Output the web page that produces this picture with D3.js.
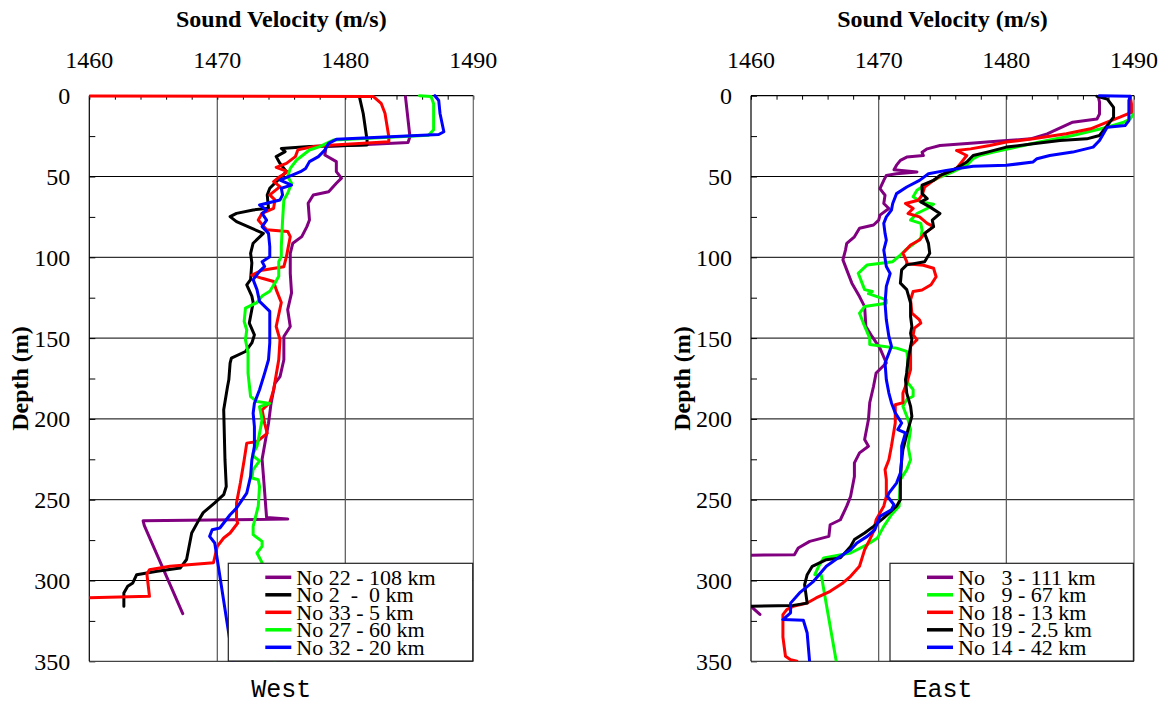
<!DOCTYPE html>
<html><head><meta charset="utf-8">
<script src="https://cdn.jsdelivr.net/npm/d3@7"></script>
<style>
body{margin:0;background:#fff;}
svg text{font-family:"Liberation Serif","Times New Roman",serif;}
</style></head>
<body>
<svg id="chart" width="1162" height="704"></svg>
<script>
// ---- Data: each series is [soundVelocity (m/s), depth (m)] ----
const xTicks = [1460, 1470, 1480, 1490];
const yTicks = [0, 50, 100, 150, 200, 250, 300, 350];

const westNames = ["No 22 - 108 km", "No 2  -  0 km", "No 33 - 5 km", "No 27 - 60 km", "No 32 - 20 km"];
const eastNames = ["No   3 - 111 km", "No   9 - 67 km", "No 18 - 13 km", "No 19 - 2.5 km", "No 14 - 42 km"];

const westNo22 = [[1484.7,0.6],[1485.05,25.4],[1484.9,29],[1478.5,31.5],[1478.4,36.7],[1479.3,40.8],[1479.3,47],[1479.7,51],[1479.3,54.2],[1478.7,59.4],[1477.5,61.4],[1477.1,66.6],[1477.2,76.9],[1477.0,81],[1476.6,87.2],[1475.9,91.3],[1475.7,97.5],[1475.7,110],[1475.8,122],[1475.5,132.4],[1475.7,142.8],[1475.2,149],[1475.2,163.4],[1474.9,173.8],[1474.5,178],[1474.2,190.4],[1474.0,202.7],[1473.5,225],[1473.6,235],[1473.85,261],[1475.5,262],[1464.2,263],[1464.3,266],[1467.3,320.5]];
const westNo2 = [[1481.1,0.6],[1481.4,11],[1481.7,27.4],[1481.7,30.5],[1477.2,31.5],[1475.0,32.6],[1475.3,34.6],[1474.6,37.7],[1474.9,41.9],[1475.4,47],[1474.1,57.3],[1473.9,61.4],[1474.0,69.7],[1472.8,70.7],[1471.5,72.8],[1471.0,74.8],[1471.5,77.9],[1473.6,85.2],[1472.8,91.3],[1472.6,97.5],[1472.7,103.5],[1472.6,113.8],[1472.3,117],[1472.7,124],[1472.8,128],[1472.5,140.7],[1472.9,148],[1472.7,153],[1472.2,158.3],[1471.1,162.4],[1471.0,165.5],[1470.9,175.8],[1470.8,180],[1470.5,194.4],[1470.6,225.4],[1470.7,241.8],[1470.5,246.9],[1469.8,252],[1468.9,258],[1468.5,263.4],[1468.0,270.6],[1467.6,287],[1467.1,292.3],[1465.3,294.3],[1463.7,296.4],[1463.4,301.5],[1463.0,303.6],[1462.7,307.7],[1462.7,316]];
const westNo33 = [[1459,0.2],[1482.2,0.5],[1482.8,4.7],[1483.1,10.9],[1483.4,25.4],[1483.4,28.5],[1479.1,30.5],[1477.5,31.5],[1476.3,33.5],[1476.1,37.7],[1475.4,41.9],[1474.6,44.3],[1475.5,47],[1474.9,50],[1474.4,53.2],[1474.9,56.3],[1474.1,61.4],[1474.5,64.5],[1474.4,69.7],[1473.5,72.8],[1473.2,76.9],[1473.85,83],[1475.5,84],[1475.7,87.2],[1475.4,99.6],[1475.2,105.8],[1473.5,108],[1472.7,111],[1473.5,113],[1474.4,115],[1474.6,120],[1475.0,128],[1474.6,142.8],[1474.9,151],[1474.8,163.4],[1474.4,182],[1474.1,190],[1473.5,194.4],[1473.7,202.7],[1473.9,209],[1473.1,214],[1472.3,215],[1472.1,225.4],[1471.8,239.7],[1471.5,252],[1471.5,262.4],[1471.6,264.4],[1471.0,270.6],[1470.5,273.7],[1470.0,278.9],[1469.7,289],[1466.3,291.2],[1464.7,293.3],[1464.5,296],[1464.7,309.8],[1459,310.8]];
const westNo27 = [[1485.8,0],[1486.7,0.5],[1486.9,5],[1486.9,21],[1486.5,24.5],[1479.1,27.4],[1478.0,31.5],[1477.2,33.6],[1476.2,39.8],[1475.7,45],[1475.5,50],[1475.8,54.2],[1475.5,60.4],[1475.2,64.5],[1475.1,77],[1475.0,93.4],[1475.0,99.6],[1474.8,102.7],[1474.8,111.7],[1474.5,116],[1474.1,121],[1473.5,124],[1473.1,128],[1472.2,131.4],[1472.1,139.7],[1472.3,145],[1472.2,151],[1472.4,159.3],[1472.4,171.7],[1472.6,186.2],[1473.1,189.3],[1474.1,190.4],[1473.3,192.4],[1473.5,200.6],[1473.3,208.9],[1473.1,217],[1472.8,221.3],[1472.8,223],[1473.3,226],[1472.8,231.4],[1472.7,236.6],[1473.2,237.6],[1473.3,241.8],[1473.2,254],[1472.8,266.5],[1472.8,271.6],[1473.5,275.8],[1473.5,278.9],[1473.1,283],[1473.5,289],[1474.5,351]];
const westNo32 = [[1487.0,0],[1487.3,3],[1487.4,11],[1487.7,22.3],[1487.3,24],[1479.3,27],[1478.7,29.5],[1478.4,33.6],[1477.9,37.7],[1477.2,40.8],[1476.9,45],[1476.5,47],[1475.9,49],[1474.9,52.2],[1475.8,55.3],[1475.0,57.3],[1475.1,61.4],[1474.9,64.5],[1473.3,67.6],[1473.85,70.7],[1473.5,72.8],[1473.85,77],[1473.5,81],[1474.0,85.2],[1474.1,93.4],[1474.1,99.6],[1473.5,102.7],[1473.7,105.6],[1473.3,108.7],[1472.8,113.8],[1473.1,120],[1473.3,127.3],[1474.1,133.5],[1474.1,153],[1474.0,163.4],[1473.7,171.7],[1473.3,182],[1472.9,190.3],[1472.8,196.5],[1472.9,204.8],[1472.9,217],[1472.7,225.4],[1472.6,235.6],[1472.3,245.9],[1471.5,255.2],[1471.0,259.3],[1470.2,267.5],[1469.6,268.6],[1469.4,272.7],[1469.8,276.8],[1471.25,351]];

const eastNo3 = [[1487.2,0.4],[1487.3,4],[1487.3,11.3],[1487.1,14.4],[1485.2,16.4],[1483.2,23.6],[1481.9,26.7],[1479.5,28.1],[1477.2,29.4],[1474.8,30.8],[1473.8,32.9],[1473.4,35],[1473.5,37],[1472.2,38],[1471.7,40],[1471.4,43],[1471.2,45.8],[1473.0,47.2],[1471.4,48.3],[1470.6,49.3],[1470.4,52.4],[1470.1,57.5],[1470.5,61.6],[1470.4,66.7],[1470.8,69.8],[1470.1,73.9],[1470.0,77],[1469.6,80],[1468.5,82],[1468.1,87.3],[1467.5,91.4],[1467.4,95.5],[1467.2,101.6],[1467.5,107.8],[1467.9,116],[1468.5,124.3],[1468.9,130.5],[1469.0,142.8],[1469.4,148],[1470.1,156.2],[1470.6,165.4],[1469.8,171.6],[1469.6,179.8],[1469.3,190],[1469.2,200.4],[1468.9,212.8],[1469.2,216.9],[1468.5,221],[1468.1,227.2],[1468.1,235.6],[1467.8,248],[1467.5,254],[1467.0,262.4],[1466.2,265.5],[1466.1,272.7],[1464.6,275.8],[1463.7,279.9],[1463.4,284],[1459.5,284.4],[1458.5,290],[1459.0,310],[1460.0,316],[1460.7,321]];
const eastNo9 = [[1490.2,0],[1490.0,8],[1489.9,12],[1489.7,14.4],[1489.2,16.4],[1487.9,19.5],[1485.2,24.6],[1482.6,28.7],[1480.8,31.8],[1479.0,34.9],[1477.9,37],[1477.4,39],[1476.9,43],[1475.8,47.2],[1474.8,50.3],[1473.8,54.4],[1473.0,58.5],[1472.7,62.6],[1473.3,65.7],[1474.3,67.1],[1473.8,69.8],[1473.0,72.9],[1472.5,77],[1473.3,79],[1473.4,83.2],[1473.3,88.3],[1472.8,91.4],[1472.1,95.5],[1471.7,98.6],[1471.1,102.7],[1469.1,104.7],[1468.4,109.9],[1468.7,116],[1468.9,120],[1469.5,121.2],[1469.2,122.5],[1470.6,126.3],[1470.6,128.4],[1468.9,130.5],[1468.5,134.6],[1468.8,140.7],[1469.3,150],[1469.3,154],[1471.4,156.2],[1472.2,158.2],[1472.3,163.4],[1472.2,171.6],[1472.3,177.8],[1472.7,181.9],[1472.7,186],[1472.2,188],[1471.9,192.2],[1472.3,200.4],[1472.5,206.6],[1472.3,216.9],[1472.5,225.3],[1472.2,231.4],[1471.7,237.6],[1471.6,254],[1471.0,259.3],[1470.4,266.5],[1469.9,273.7],[1469.1,277.8],[1467.8,283],[1465.7,286],[1465.3,291.2],[1465.0,296.4],[1465.5,296.6],[1466.7,351]];
const eastNo18 = [[1489.7,0.4],[1489.8,5],[1489.8,10.3],[1488.9,13.3],[1487.9,16.4],[1486.6,20.5],[1484.7,23.6],[1482.1,26.7],[1480.0,28.7],[1478.7,30.8],[1477.2,32.9],[1476.1,33.9],[1476.9,37],[1476.6,40],[1476.1,45],[1475.1,48.3],[1474.3,52.4],[1473.6,56.5],[1473.4,61.6],[1473.1,64.7],[1472.1,66.7],[1472.7,69.8],[1472.3,72.9],[1473.2,75],[1473.8,79],[1474.3,81],[1473.6,85.2],[1473.2,89.3],[1472.5,92.4],[1471.9,97.5],[1472.2,102.7],[1472.2,104],[1473.5,104.9],[1474.3,106.8],[1474.5,112],[1474.1,117],[1473.4,120.2],[1472.7,121.2],[1472.5,126.3],[1472.6,134.6],[1473.2,138.7],[1473.3,140.7],[1472.8,143.8],[1472.7,148],[1473.0,151],[1472.5,155],[1472.5,169.5],[1472.2,177.8],[1471.9,184],[1471.9,190],[1471.3,191.2],[1471.3,202.5],[1471.0,216.9],[1470.8,225.3],[1470.5,231.4],[1470.6,237.6],[1470.6,248],[1470.4,254],[1470.1,258.2],[1469.8,262.4],[1469.6,269.6],[1469.3,274.7],[1468.9,281],[1468.5,291.2],[1467.8,297.4],[1467.2,301.5],[1466.2,306.7],[1465.1,310.8],[1464.4,313.9],[1463.3,316],[1462.8,318],[1462.5,321.1],[1462.5,335],[1462.7,346.9],[1463.1,349],[1463.6,350]];
const eastNo19 = [[1487.1,0.4],[1487.9,2],[1488.4,7.2],[1488.4,13.3],[1487.9,18.5],[1487.3,24.6],[1486.3,26.7],[1484.2,27.7],[1482.1,29.8],[1480.0,31.8],[1478.5,34.9],[1477.4,37],[1476.9,41],[1475.8,46.2],[1474.8,49.3],[1474.3,52.4],[1473.4,55.4],[1473.4,60.6],[1473.8,63.7],[1473.3,65.7],[1474.0,68.8],[1474.8,72.9],[1474.2,77],[1474.3,81],[1473.6,85.2],[1473.9,91.4],[1474.0,97.5],[1473.6,102.7],[1472.2,104.7],[1471.8,107.8],[1471.7,116],[1472.2,120],[1472.5,128.4],[1472.5,136.6],[1472.6,142.8],[1472.5,147],[1472.6,151],[1472.3,163.4],[1472.2,171.6],[1472.1,175.7],[1472.2,184],[1472.5,192.2],[1472.6,198.4],[1472.3,206.6],[1472.1,212.8],[1471.9,219],[1471.8,225.3],[1471.7,237.6],[1471.7,250],[1471.4,254],[1470.4,261.3],[1469.6,266.5],[1468.9,270.6],[1468.1,274.7],[1467.8,278.9],[1467.0,286],[1465.9,287.1],[1464.8,291.2],[1464.4,296.4],[1464.2,302.6],[1464.4,314],[1463.3,315.4],[1459,316]];
const eastNo14 = [[1487.3,0],[1489.7,0.4],[1489.6,3],[1489.6,15.4],[1489.3,18.5],[1487.9,19.5],[1487.3,27.7],[1486.8,31.8],[1485.2,34.9],[1483.4,37],[1482.4,39],[1482.1,41],[1480.0,43.1],[1477.4,43.7],[1475.3,46.2],[1473.9,48.3],[1473.2,52.4],[1472.2,56.5],[1471.4,60.6],[1471.1,66.7],[1471.0,70.8],[1470.6,75],[1470.4,79],[1470.5,85.2],[1470.6,89.3],[1470.4,95.5],[1470.6,105.7],[1470.9,110],[1470.6,118],[1470.5,128.4],[1470.6,138.7],[1470.8,149],[1471.0,155],[1470.8,159.3],[1470.5,165.4],[1470.6,175.7],[1470.8,184],[1471.0,190],[1471.3,196.3],[1471.8,202.5],[1471.5,206.6],[1472.1,208.6],[1471.8,216.9],[1471.8,225.3],[1471.7,233.5],[1471.4,239.7],[1470.8,245.9],[1470.7,248],[1471.2,253.1],[1471.0,256.2],[1470.1,260.3],[1469.7,268.6],[1469.1,272.7],[1468.3,276.8],[1467.8,281],[1467.0,285],[1465.9,291.2],[1464.9,300.5],[1463.8,307.7],[1463.1,314],[1463.1,320],[1462.5,324.2],[1464.1,324.6],[1464.4,332.5],[1464.6,351]];

const westColors = ["#800080", "#000000", "#ff0000", "#00ff00", "#0000ff"];
const eastColors = ["#800080", "#00ff00", "#ff0000", "#000000", "#0000ff"];

const panels = [
  {id:"w", x0:89.3, x1:473.3, label:"West", names:westNames, colors:westColors, series:[westNo22, westNo2, westNo33, westNo27, westNo32]},
  {id:"e", x0:751, x1:1134, label:"East", names:eastNames, colors:eastColors, series:[eastNo3, eastNo9, eastNo18, eastNo19, eastNo14]}
];
const Y0 = 95.7, Y1 = 661.3;

const svg = d3.select("#chart");

panels.forEach(p => {
  const x = d3.scaleLinear().domain([1460, 1490]).range([p.x0, p.x1]);
  const y = d3.scaleLinear().domain([0, 350]).range([Y0, Y1]);
  const g = svg.append("g");
  const cx = (p.x0 + p.x1) / 2;

  // clip
  svg.append("defs").append("clipPath").attr("id", "clip-" + p.id)
    .append("rect").attr("x", p.x0).attr("y", Y0 - 3).attr("width", p.x1 - p.x0).attr("height", Y1 - Y0 + 3);

  // gridlines
  g.selectAll(".hg").data(yTicks.slice(1, -1)).enter().append("line")
    .attr("x1", p.x0).attr("x2", p.x1).attr("y1", d => y(d)).attr("y2", d => y(d))
    .attr("stroke", "#000").attr("stroke-width", 1);
  g.selectAll(".vg").data(xTicks.slice(1, -1)).enter().append("line")
    .attr("x1", d => x(d)).attr("x2", d => x(d)).attr("y1", Y0).attr("y2", Y1)
    .attr("stroke", "#555").attr("stroke-width", 1.2);

  // minor ticks on top (every 2) and left (every 25)
  const topAxis = d3.axisTop(x).tickValues(d3.range(1460, 1491, 2)).tickSize(-4).tickFormat("");
  g.append("g").attr("transform", `translate(0,${Y0})`).call(topAxis)
    .call(a => a.select(".domain").remove())
    .selectAll("line").attr("stroke", "#000");
  const leftAxis = d3.axisLeft(y).tickValues(d3.range(0, 351, 25)).tickSize(-6).tickFormat("");
  g.append("g").attr("transform", `translate(${p.x0},0)`).call(leftAxis)
    .call(a => a.select(".domain").remove())
    .selectAll("line").attr("stroke", "#000");

  // border
  g.append("line").attr("x1", p.x1).attr("x2", p.x1).attr("y1", Y0).attr("y2", Y1).attr("stroke", "#666").attr("stroke-width", 1.2);
  g.append("line").attr("x1", p.x0).attr("x2", p.x1).attr("y1", Y1).attr("y2", Y1).attr("stroke", "#444").attr("stroke-width", 1.2);
  g.append("line").attr("x1", p.x0).attr("x2", p.x0).attr("y1", Y0).attr("y2", Y1).attr("stroke", "#000").attr("stroke-width", 1.2);
  g.append("line").attr("x1", p.x0).attr("x2", p.x1).attr("y1", Y0).attr("y2", Y0).attr("stroke", "#000").attr("stroke-width", 1.2);

  // tick labels
  g.selectAll(".xl").data(xTicks).enter().append("text")
    .attr("x", d => x(d)).attr("y", 68).attr("text-anchor", "middle")
    .attr("font-size", 24).text(d => d);
  g.selectAll(".yl").data(yTicks).enter().append("text")
    .attr("x", p.x0 - 19).attr("y", d => y(d)).attr("dy", "0.35em").attr("text-anchor", "end")
    .attr("font-size", 24).text(d => d);

  // titles
  g.append("text").attr("x", cx).attr("y", 27).attr("text-anchor", "middle")
    .attr("font-size", 24).attr("font-weight", "bold").text("Sound Velocity (m/s)");
  g.append("text").attr("transform", `translate(${p.x0 - 61},${(Y0 + Y1) / 2}) rotate(-90)`)
    .attr("text-anchor", "middle").attr("font-size", 24).attr("font-weight", "bold").text("Depth (m)");
  g.append("text").attr("x", cx).attr("y", 697).attr("text-anchor", "middle")
    .style("font-family", "'Liberation Mono','Courier New',monospace").attr("font-size", 25).text(p.label);

  // lines
  const line = d3.line().x(d => x(d[0])).y(d => y(d[1]));
  const lg = g.append("g").attr("clip-path", `url(#clip-${p.id})`);
  p.series.forEach((s, i) => {
    lg.append("path").datum(s).attr("d", line).attr("fill", "none")
      .attr("stroke", p.colors[i]).attr("stroke-width", 3)
      .attr("stroke-linejoin", "round").attr("stroke-linecap", "round");
  });

  // legend
  const lx0 = p.x0 + 139, lx1 = p.x1 - 0.6, ly0 = 563.3, ly1 = 661;
  const leg = g.append("g");
  leg.append("rect").attr("x", lx0).attr("y", ly0).attr("width", lx1 - lx0).attr("height", ly1 - ly0)
    .attr("fill", "#fff").attr("stroke", "#222").attr("stroke-width", 1.2);
  p.names.forEach((n, i) => {
    const yy = 577.3 + i * 17.5;
    leg.append("line").attr("x1", lx0 + 37).attr("x2", lx0 + 63).attr("y1", yy).attr("y2", yy)
      .attr("stroke", p.colors[i]).attr("stroke-width", 3.5);
    leg.append("text").attr("x", lx0 + 68).attr("y", yy + 7.5).attr("font-size", 22)
      .style("white-space", "pre").attr("xml:space", "preserve").text(n);
  });
});
</script>
</body></html>
